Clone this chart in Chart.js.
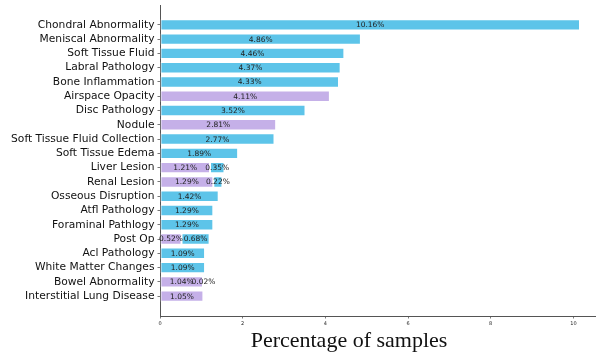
<!DOCTYPE html>
<html>
<head>
<meta charset="utf-8">
<script src="https://cdn.jsdelivr.net/npm/chart.js@4/dist/chart.umd.min.js"></script>
<style>
  html, body { margin: 0; padding: 0; background: #fff; overflow: hidden; }
  #wrap { width: 606px; height: 356px; }
</style>
</head>
<body>
<div id="wrap"><canvas id="c" width="606" height="356"></canvas></div>
<script>
// Finding categories, top to bottom
const categories = [
  'Chondral Abnormality', 'Meniscal Abnormality', 'Soft Tissue Fluid', 'Labral Pathology',
  'Bone Inflammation', 'Airspace Opacity', 'Disc Pathology', 'Nodule',
  'Soft Tissue Fluid Collection', 'Soft Tissue Edema', 'Liver Lesion', 'Renal Lesion',
  'Osseous Disruption', 'Atfl Pathology', 'Foraminal Pathlogy', 'Post Op',
  'Acl Pathology', 'White Matter Changes', 'Bowel Abnormality', 'Interstitial Lung Disease'
];
// Percentage of samples, purple segment (drawn first) and blue segment
const purpleValues = [0, 0, 0, 0, 0, 4.11, 0, 2.81, 0, 0, 1.21, 1.29, 0, 0, 0, 0.52, 0, 0, 1.04, 1.05];
const blueValues   = [10.16, 4.86, 4.46, 4.37, 4.33, 0, 3.52, 0, 2.77, 1.89, 0.35, 0.22, 1.42, 1.29, 1.29, 0.68, 1.09, 1.09, 0.02, 0];
const xTickValues = [0, 2, 4, 6, 8, 10];
const xTitle = 'Percentage of samples';

const toPoints = vals => vals.map((v, i) => ({ x: v, y: i })).filter(p => p.x > 0);

const PURPLE = 'rgb(197,176,232)';
const BLUE = 'rgb(93,196,233)';

// Value labels centred in each bar segment
const segmentLabels = {
  id: 'segmentLabels',
  afterDatasetsDraw(chart) {
    const ctx = chart.ctx;
    ctx.save();
    ctx.font = '7.5px "DejaVu Sans"';
    ctx.fillStyle = '#222';
    ctx.textAlign = 'center';
    ctx.textBaseline = 'middle';
    chart.data.datasets.forEach((ds, di) => {
      const meta = chart.getDatasetMeta(di);
      meta.data.forEach((el, i) => {
        const v = ds.data[i].x;
        const cx = (el.x + el.base) / 2;
        ctx.fillText(v.toFixed(2) + '%', cx, el.y + 0.5);
      });
    });
    ctx.restore();
  }
};

// Axis title below the value axis
const axisTitle = {
  id: 'axisTitle',
  afterDraw(chart) {
    const ctx = chart.ctx;
    ctx.save();
    ctx.font = '22px "Liberation Serif"';
    ctx.fillStyle = '#111';
    ctx.textAlign = 'center';
    ctx.textBaseline = 'alphabetic';
    ctx.fillText(xTitle, 349, 347);
    ctx.restore();
  }
};

new Chart(document.getElementById('c'), {
  type: 'bar',
  data: {
    datasets: [
      {
        data: toPoints(purpleValues),
        backgroundColor: PURPLE,
        borderColor: 'rgba(255,255,255,0.45)',
        borderWidth: 1,
        borderSkipped: false,
        stack: 's'
      },
      {
        data: toPoints(blueValues),
        backgroundColor: BLUE,
        borderColor: 'rgba(255,255,255,0.45)',
        borderWidth: 1,
        borderSkipped: false,
        stack: 's'
      }
    ]
  },
  options: {
    indexAxis: 'y',
    responsive: false,
    animation: false,
    devicePixelRatio: 1,
    categoryPercentage: 1,
    barPercentage: 0.8,
    layout: { padding: { left: 0, top: 5, right: 5, bottom: 0 } },
    plugins: {
      legend: { display: false },
      tooltip: { enabled: false },
      title: { display: false }
    },
    scales: {
      x: {
        type: 'linear',
        stacked: true,
        min: 0,
        max: 10.668,
        afterBuildTicks(scale) { scale.ticks = xTickValues.map(v => ({ value: v })); },
        afterFit(scale) { scale.height = 40; scale.paddingLeft = 0; scale.paddingRight = 0; },
        grid: { display: true, drawOnChartArea: false, drawTicks: true, tickLength: 2.5, color: '#555', lineWidth: 0.8 },
        border: { display: true, color: '#555', width: 1 },
        ticks: {
          font: { family: 'DejaVu Sans', size: 5 },
          color: '#222',
          padding: 2,
          maxRotation: 0,
          callback: v => String(v)
        }
      },
      y: {
        type: 'linear',
        reverse: true,
        offset: false,
        min: -1.39,
        max: 20.39,
        afterBuildTicks(scale) { scale.ticks = categories.map((_, i) => ({ value: i })); },
        afterFit(scale) { scale.width = 160; scale.paddingTop = 0; scale.paddingBottom = 0; },
        grid: { display: true, offset: false, drawOnChartArea: false, drawTicks: true, tickLength: 2.5, color: '#555', lineWidth: 0.8 },
        border: { display: true, color: '#555', width: 1 },
        ticks: {
          font: { family: 'DejaVu Sans', size: 10.7 },
          color: '#111',
          padding: 3,
          autoSkip: false,
          callback: v => categories[v]
        }
      }
    }
  },
  plugins: [segmentLabels, axisTitle]
});
</script>
</body>
</html>
